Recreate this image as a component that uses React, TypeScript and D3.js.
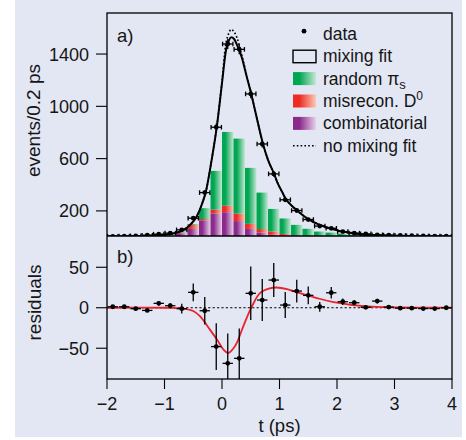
import React from 'react';
import * as d3 from 'd3';

// ---------- data ----------
const binCenters = [-1.9, -1.7, -1.5, -1.3, -1.1, -0.9, -0.7, -0.5, -0.3, -0.1, 0.1, 0.3, 0.5, 0.7, 0.9, 1.1, 1.3, 1.5, 1.7, 1.9, 2.1, 2.3, 2.5, 2.7, 2.9, 3.1, 3.3, 3.5, 3.7, 3.9];
const dataCounts = [5, 7, 9, 14, 22, 30, 55, 144, 340, 840, 1477, 1436, 1095, 712, 483, 285, 203, 134, 84, 67, 42, 30, 24, 17, 15, 12, 10, 8, 7, 6];
const dataErrors = [2, 3, 3, 4, 5, 6, 7, 12, 18, 29, 38, 38, 33, 27, 22, 17, 14, 12, 9, 8, 7, 6, 5, 4, 4, 4, 3, 3, 3, 2];
const residuals = [1.2, 1.2, -1.2, -3.3, 5.4, 2.5, -1.2, 19, -3.7, -48, -68.7, -62.5, 17.8, 9.5, 34.2, 3.3, 20.6, 15.3, 1.2, 18.5, 7.4, 6.2, 0.5, 8.2, 0.8, -0.5, -0.5, -1, -1, 0];
const residualErrors = [2, 2, 2, 2, 3, 3, 6, 11, 17, 29, 37, 37, 33, 26, 21, 16, 14, 11, 6, 7, 4, 3, 2, 3, 2, 2, 2, 2, 2, 2];

const barLeftEdges = [-1.2, -1.0, -0.8, -0.6, -0.4, -0.2, 0.0, 0.2, 0.4, 0.6, 0.8, 1.0, 1.2, 1.4, 1.6, 1.8, 2.0, 2.2, 2.4, 2.6, 2.8];
const combinatorial = [3, 6, 30, 62, 128, 180, 190, 122, 62, 34, 17, 9, 5, 3, 2, 1, 1, 0, 0, 0, 0];
const misrecon = [1, 2, 6, 30, 10, 30, 50, 58, 39, 27, 25, 15, 9, 5, 3, 2, 1, 1, 1, 0, 0];
const randomPi = [2, 4, 9, 8, 83, 296, 564, 573, 428, 279, 173, 118, 79, 55, 37, 31, 24, 17, 11, 8, 6];
const binWidth = 0.2;

const fitT = [-2.0, -1.5, -1.2, -1.0, -0.8, -0.67, -0.55, -0.44, -0.35, -0.28, -0.18, -0.09, 0.0, 0.07, 0.12, 0.16, 0.21, 0.27, 0.34, 0.43, 0.52, 0.6, 0.71, 0.8, 0.91, 0.97, 1.04, 1.11, 1.2, 1.3, 1.5, 1.73, 1.97, 2.2, 2.4, 2.7, 3.0, 3.5, 4.0];
const fitV = [4, 7, 12, 18, 32, 55, 95, 157, 250, 348, 590, 845, 1177, 1431, 1505, 1528, 1515, 1460, 1380, 1227, 1074, 921, 718, 590, 480, 410, 350, 290, 245, 205, 137, 88, 55, 34, 22, 13, 9, 5, 3];

const noMixT = [-2.0, -1.5, -1.2, -1.0, -0.8, -0.67, -0.55, -0.44, -0.35, -0.28, -0.18, -0.09, 0.0, 0.06, 0.11, 0.16, 0.21, 0.26, 0.34, 0.43, 0.52, 0.6, 0.71, 0.8, 0.91, 0.97, 1.04, 1.11, 1.2, 1.3, 1.5, 1.73, 1.97, 2.2, 2.4, 2.7, 3.0, 3.5, 4.0];
const noMixV = [4, 7, 12, 18, 32, 55, 95, 157, 250, 348, 590, 850, 1190, 1460, 1550, 1588, 1570, 1525, 1400, 1235, 1074, 921, 718, 590, 480, 410, 350, 290, 245, 205, 137, 88, 55, 34, 22, 13, 9, 5, 3];

const resFitT = [-2.0, -1.0, -0.67, -0.5, -0.38, -0.21, -0.09, 0.03, 0.11, 0.19, 0.26, 0.37, 0.52, 0.66, 0.83, 0.95, 1.13, 1.36, 1.65, 1.94, 2.52, 3.1, 4.0];
const resFitV = [0, 0, -1, -4, -10.7, -27, -39, -52, -56, -51, -43, -23, 1.6, 18, 24, 25, 23, 18, 12, 7, 1.6, 0.4, 0];

const xTicks = [-2, -1, 0, 1, 2, 3, 4];
const yTicksA = [200, 600, 1000, 1400];
const yTicksB = [-50, 0, 50];

// ---------- layout ----------
const W = 466, H = 440;
const L = 107, R = 452, TOP = 13, MID = 236, BOT = 379;
const FONT = '"Liberation Sans", Arial, sans-serif';
const BG = '#e3e6f3';
const TXT = '#151515';

const x = d3.scaleLinear().domain([-2, 4]).range([L, R]);
const yA = d3.scaleLinear().domain([8, 1714]).range([MID, TOP]);
const yB = d3.scaleLinear().domain([-88, 88.6]).range([BOT, MID]);

const grads = [
  { id: 'gGreen', dark: '#00a651', light: '#c6e7d3' },
  { id: 'gRed', dark: '#ee2a24', light: '#fdcab4' },
  { id: 'gPurple', dark: '#8a2a8c', light: '#e8d2e8' },
];

export default function App() {
  const fitLine = d3.line<number>().x((_, i) => x(fitT[i])).y((d) => yA(d)).curve(d3.curveMonotoneX);
  const noMixLine = d3.line<number>().x((_, i) => x(noMixT[i])).y((d) => yA(d)).curve(d3.curveMonotoneX);
  const resLine = d3.line<number>().x((_, i) => x(resFitT[i])).y((d) => yB(d)).curve(d3.curveCatmullRom);

  const bars: JSX.Element[] = [];
  barLeftEdges.forEach((t0, i) => {
    const x0 = x(t0), x1 = x(t0 + binWidth);
    const layers = [
      { v: combinatorial[i], fill: 'url(#gPurple)' },
      { v: misrecon[i], fill: 'url(#gRed)' },
      { v: randomPi[i], fill: 'url(#gGreen)' },
    ];
    let base = 0;
    layers.forEach((ly, j) => {
      if (ly.v <= 0) return;
      const yt = yA(base + ly.v), yb = yA(base);
      bars.push(<rect key={`b${i}-${j}`} x={x0} y={yt} width={x1 - x0} height={yb - yt} fill={ly.fill} />);
      base += ly.v;
    });
  });

  const hw = 0.09;
  const legendRows = [39.7, 62.2, 84.6, 107, 129.4, 151.8];
  const lx = 293, lt = 323;

  return (
    <div style={{ position: 'absolute', left: 0, top: 0 }}>
      <svg width={W} height={H} style={{ display: 'block' }} fontFamily={FONT}>
        <defs>
          {grads.map((g) => (
            <linearGradient key={g.id} id={g.id} x1="0" y1="0" x2="1" y2="0">
              <stop offset="0" stopColor={g.dark} />
              <stop offset="0.28" stopColor={g.dark} />
              <stop offset="1" stopColor={g.light} />
            </linearGradient>
          ))}
          <clipPath id="clipA"><rect x={L} y={TOP} width={R - L} height={MID - TOP} /></clipPath>
          <clipPath id="clipB"><rect x={L} y={MID} width={R - L} height={BOT - MID} /></clipPath>
        </defs>
        <rect x={0} y={0} width={W} height={H} fill="#ffffff" />
        <rect x={15} y={0} width={447} height={437} fill={BG} />

        {/* panel a */}
        <g clipPath="url(#clipA)">
          {bars}
          <path d={noMixLine(noMixV) || ''} fill="none" stroke="#000" strokeWidth={1.6} strokeDasharray="1.6 2.2" />
          <path d={fitLine(fitV) || ''} fill="none" stroke="#000" strokeWidth={2} />
          {binCenters.map((t, i) => {
            const cx = x(t), cy = yA(dataCounts[i]);
            const e = dataErrors[i];
            return (
              <g key={`pa${i}`} stroke="#000" strokeWidth={1.3}>
                <line x1={x(t - hw)} x2={x(t + hw)} y1={cy} y2={cy} />
                <line x1={x(t - hw)} x2={x(t - hw)} y1={cy - 2.3} y2={cy + 2.3} />
                <line x1={x(t + hw)} x2={x(t + hw)} y1={cy - 2.3} y2={cy + 2.3} />
                <line x1={cx} x2={cx} y1={yA(dataCounts[i] + e)} y2={yA(dataCounts[i] - e)} />
                <circle cx={cx} cy={cy} r={2.4} fill="#000" stroke="none" />
              </g>
            );
          })}
        </g>

        {/* panel b */}
        <g clipPath="url(#clipB)">
          <line x1={L} x2={R} y1={yB(0)} y2={yB(0)} stroke="#000" strokeWidth={1.1} strokeDasharray="2.2 2.2" />
          <path d={resLine(resFitV) || ''} fill="none" stroke="#e8232b" strokeWidth={1.8} />
          {binCenters.map((t, i) => {
            const cx = x(t), cy = yB(residuals[i]);
            const e = residualErrors[i];
            return (
              <g key={`pb${i}`} stroke="#000" strokeWidth={1.3}>
                <line x1={x(t - hw)} x2={x(t + hw)} y1={cy} y2={cy} />
                <line x1={cx} x2={cx} y1={yB(residuals[i] + e)} y2={yB(residuals[i] - e)} />
                <circle cx={cx} cy={cy} r={2.4} fill="#000" stroke="none" />
              </g>
            );
          })}
        </g>

        {/* frame */}
        <rect x={L} y={TOP} width={R - L} height={BOT - TOP} fill="none" stroke="#000" strokeWidth={1.3} />
        <line x1={L} x2={R} y1={MID} y2={MID} stroke="#000" strokeWidth={1.3} />

        {/* y ticks a */}
        {yTicksA.map((v) => (
          <g key={`ya${v}`}>
            <line x1={L - 11} x2={L} y1={yA(v)} y2={yA(v)} stroke="#000" strokeWidth={1.1} />
            <text x={89} y={yA(v)} dy="0.36em" textAnchor="end" fontSize={18} fill={TXT}>{v}</text>
          </g>
        ))}
        {/* y ticks b */}
        {yTicksB.map((v) => (
          <g key={`yb${v}`}>
            <line x1={L - 11} x2={L} y1={yB(v)} y2={yB(v)} stroke="#000" strokeWidth={1.1} />
            <text x={89} y={yB(v)} dy="0.36em" textAnchor="end" fontSize={18} fill={TXT}>{v < 0 ? `\u2212${Math.abs(v)}` : v}</text>
          </g>
        ))}
        {/* x ticks */}
        {xTicks.map((v) => (
          <g key={`x${v}`}>
            <line x1={x(v)} x2={x(v)} y1={BOT} y2={BOT + 10} stroke="#000" strokeWidth={1.1} />
            <text x={x(v)} y={409.5} textAnchor="middle" fontSize={18} fill={TXT}>{v < 0 ? `\u2212${Math.abs(v)}` : v}</text>
          </g>
        ))}

        {/* axis titles */}
        <text x={(L + R) / 2} y={432} textAnchor="middle" fontSize={18.5} fill={TXT}>t (ps)</text>
        <text transform={`translate(40,${(TOP + MID) / 2 - 4}) rotate(-90)`} textAnchor="middle" fontSize={19} fill={TXT}>events/0.2 ps</text>
        <text transform={`translate(41,${(MID + BOT) / 2 - 5}) rotate(-90)`} textAnchor="middle" fontSize={19} fill={TXT}>residuals</text>

        {/* panel labels */}
        <text x={117} y={42} fontSize={18.5} fill={TXT}>a)</text>
        <text x={117} y={263} fontSize={18.5} fill={TXT}>b)</text>

        {/* legend */}
        <g fontSize={17.5} fill={TXT}>
          <circle cx={304} cy={legendRows[0] - 8.5} r={2.4} fill="#000" />
          <text x={lt} y={legendRows[0]}>data</text>

          <rect x={lx} y={legendRows[1] - 12} width={23} height={12.5} fill={BG} stroke="#000" strokeWidth={1.4} />
          <text x={lt} y={legendRows[1]}>mixing fit</text>

          <rect x={lx} y={legendRows[2] - 12.5} width={23} height={13} fill="url(#gGreen)" />
          <text x={lt} y={legendRows[2]}>random π<tspan dy="4" fontSize={13}>s</tspan></text>

          <rect x={lx} y={legendRows[3] - 12.5} width={23} height={13} fill="url(#gRed)" />
          <text x={lt} y={legendRows[3]}>misrecon. D<tspan dy="-7" fontSize={12}>0</tspan></text>

          <rect x={lx} y={legendRows[4] - 12.5} width={23} height={13} fill="url(#gPurple)" />
          <text x={lt} y={legendRows[4]}>combinatorial</text>

          <line x1={lx} x2={lx + 23} y1={legendRows[5] - 6} y2={legendRows[5] - 6} stroke="#000" strokeWidth={1.5} strokeDasharray="1.6 2.2" />
          <text x={lt} y={legendRows[5]}>no mixing fit</text>
        </g>
      </svg>
    </div>
  );
}
